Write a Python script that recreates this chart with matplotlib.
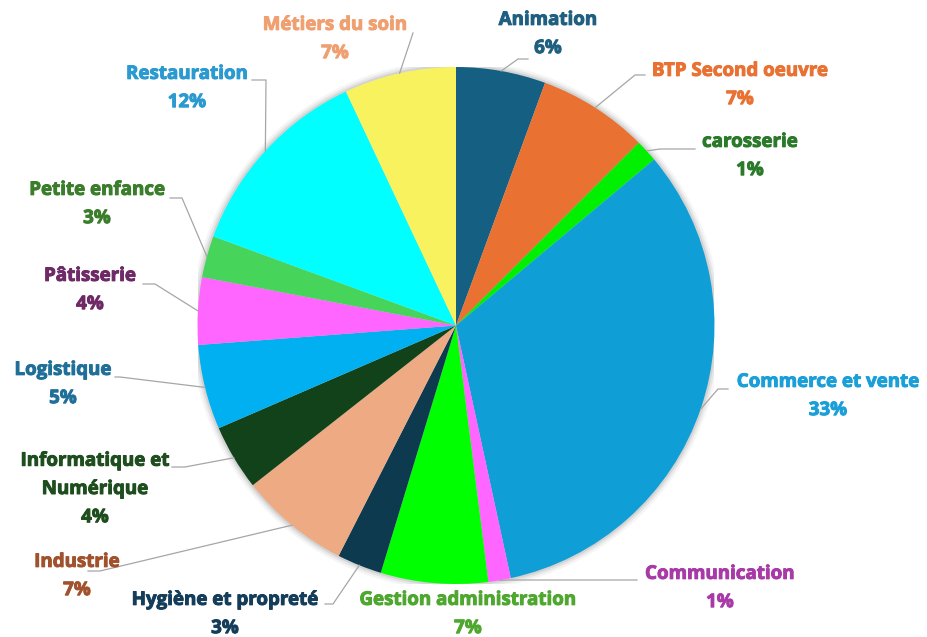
import matplotlib
matplotlib.use("Agg")
import matplotlib.pyplot as plt
import matplotlib.patheffects as pe
import numpy as np

# data (clockwise from 12 o'clock)
categories = ["Animation", "BTP Second oeuvre", "carosserie", "Commerce et vente",
              "Communication", "Gestion administration", "Hygiène et propreté",
              "Industrie", "Informatique et\nNumérique", "Logistique", "Pâtisserie",
              "Petite enfance", "Restauration", "Métiers du soin"]
shares = [5.6, 6.9, 1.4, 32.7, 1.4, 6.7, 2.8, 6.9, 4.1, 5.3, 4.2, 2.6, 12.4, 7.0]

slice_colors = ["#156082", "#E97132", "#00F000", "#0F9ED5", "#FF66FF", "#00FF00",
                "#0D3A4F", "#EEAA82", "#11421A", "#00B0F0", "#FF66FF", "#47D45A",
                "#00FFFF", "#F8F25E"]
label_colors = ["#1F5F80", "#E97132", "#2A7A2A", "#1A9FD8", "#A83AA8", "#4EA72E",
                "#143D5A", "#A0522D", "#1E4D1E", "#1F6F99", "#6E2A66", "#3A7D2A",
                "#2A9AD0", "#F0A070"]

# label layout in pixels (x, y from top): text centre, then leader elbow and end
text_pos = [(548, 34), (740, 85), (750, 156), (828, 396), (720, 588), (468, 614),
            (225, 614), (77, 576), (95, 489), (63, 384), (90, 290), (97, 204),
            (187, 88), (335, 39)]
leaders = [[(518, 59), (528, 59)], [(635, 75), (645, 75)], [(660, 149), (695, 149)],
           [(718, 389), (728, 389)], [(510, 580), (637, 580)], None,
           [(333, 604), (325, 604)], [(100, 571), (88, 571)], [(185, 467), (172, 467)],
           [(120, 377), (115, 377)], [(155, 284), (143, 284)], [(182, 198), (170, 198)],
           [(266, 80), (252, 80)], [(413, 33), (413, 33)]]

W, H = 928, 637
cx, cy, r = 456, 325.5, 258.5

fig = plt.figure(figsize=(W / 100, H / 100), dpi=100)
fig.patch.set_facecolor("white")
ax = fig.add_axes([(cx - r) / W, (H - cy - r) / H, 2 * r / W, 2 * r / H])

# soft shadow around the pie
for k, a in zip([1.025, 1.016, 1.008], [0.04, 0.06, 0.08]):
    ax.add_patch(plt.Circle((0, 0), k, color="black", alpha=a, lw=0, zorder=0))

wedges, _ = ax.pie(shares, colors=slice_colors, startangle=90, counterclock=False,
                   radius=1, wedgeprops=dict(linewidth=0))
ax.set_xlim(-1, 1)
ax.set_ylim(-1, 1)
ax.set_aspect("equal")
ax.axis("off")


def px_to_data(p):
    return ((p[0] - cx) / r, (cy - p[1]) / r)


for i, w in enumerate(wedges):
    ang = np.deg2rad((w.theta1 + w.theta2) / 2)
    start = (np.cos(ang), np.sin(ang))
    if leaders[i] is not None:
        pts = [start] + [px_to_data(p) for p in leaders[i]]
        xs, ys = zip(*pts)
        ax.plot(xs, ys, color="#A6A6A6", lw=0.9, clip_on=False, zorder=1)
    tx, ty = text_pos[i]
    label = "%s\n%.0f%%" % (categories[i], shares[i])
    fig.text(tx / W, 1 - ty / H, label, ha="center", va="center", color=label_colors[i],
             fontsize=13.5, fontweight="bold", family="Open Sans", linespacing=1.55,
             path_effects=[pe.withStroke(linewidth=0.7, foreground=label_colors[i])])

fig.savefig("out.png", dpi=100, facecolor="white")
